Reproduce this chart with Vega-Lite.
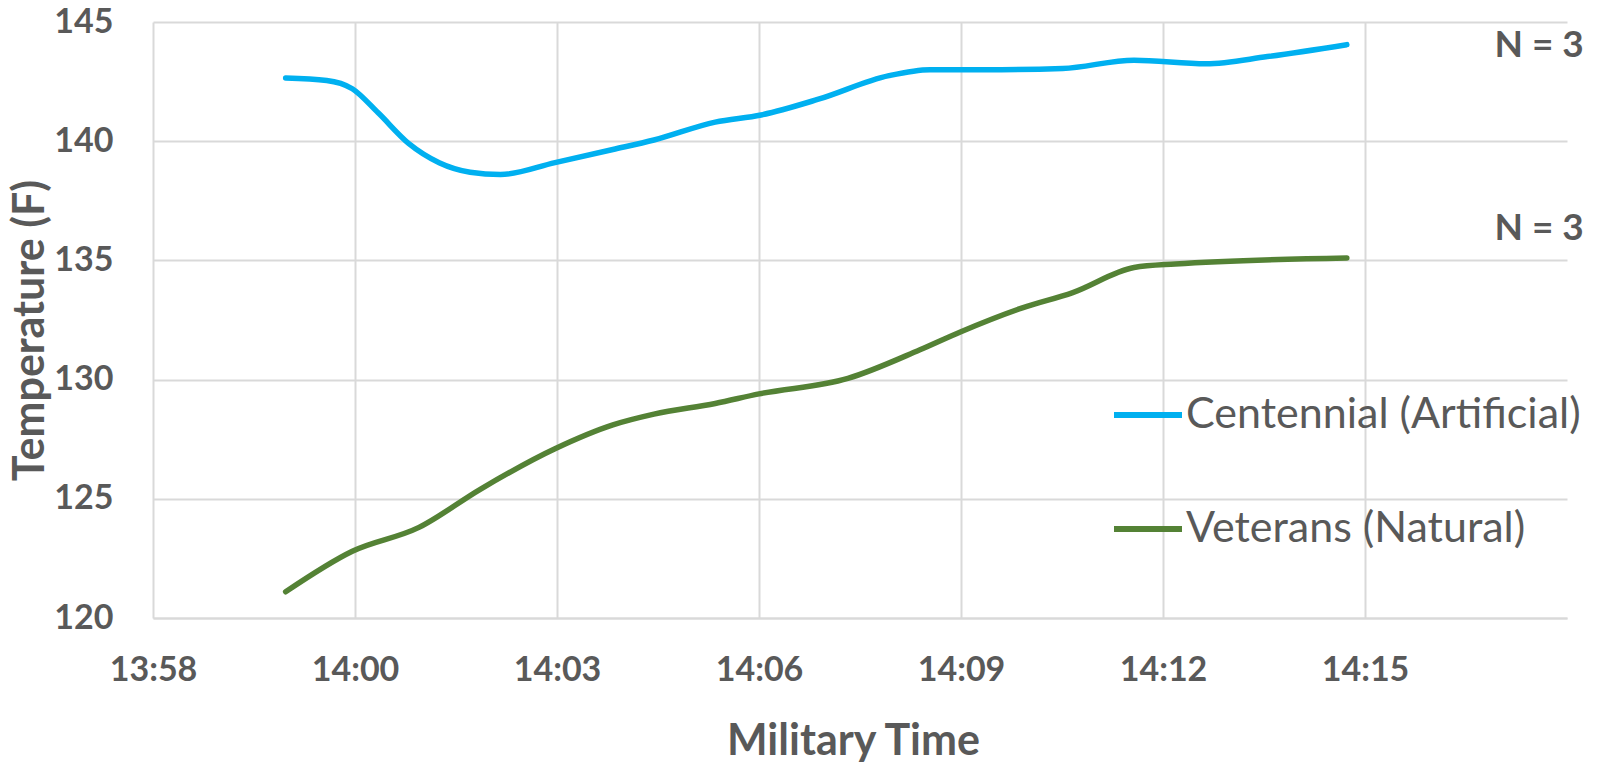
{
  "$schema": "https://vega.github.io/schema/vega-lite/v6.json",
  "autosize": {"type": "none"},
  "width": 1414,
  "height": 596,
  "padding": {"left": 153, "top": 22, "right": 32, "bottom": 149},
  "background": "white",
  "config": {
    "view": {"stroke": null},
    "font": "Lato",
    "axis": {
      "labelFont": "Lato", "labelFontWeight": "bold", "labelFontSize": 34, "labelColor": "#595959",
      "titleFont": "Lato", "titleFontWeight": "bold", "titleFontSize": 43, "titleColor": "#595959",
      "gridColor": "#d9d9d9", "gridWidth": 2, "ticks": false
    }
  },
  "datasets": {
    "temps": [
      {"series": "Centennial (Artificial)", "minute": 1.97, "temp": 142.65},
      {"series": "Centennial (Artificial)", "minute": 2.58, "temp": 142.55},
      {"series": "Centennial (Artificial)", "minute": 2.96, "temp": 142.2},
      {"series": "Centennial (Artificial)", "minute": 3.34, "temp": 141.2},
      {"series": "Centennial (Artificial)", "minute": 3.80, "temp": 139.9},
      {"series": "Centennial (Artificial)", "minute": 4.25, "temp": 139.1},
      {"series": "Centennial (Artificial)", "minute": 4.71, "temp": 138.7},
      {"series": "Centennial (Artificial)", "minute": 5.16, "temp": 138.6},
      {"series": "Centennial (Artificial)", "minute": 5.97, "temp": 139.1},
      {"series": "Centennial (Artificial)", "minute": 6.83, "temp": 139.65},
      {"series": "Centennial (Artificial)", "minute": 7.44, "temp": 140.05},
      {"series": "Centennial (Artificial)", "minute": 8.35, "temp": 140.8},
      {"series": "Centennial (Artificial)", "minute": 9.03, "temp": 141.1},
      {"series": "Centennial (Artificial)", "minute": 9.87, "temp": 141.75},
      {"series": "Centennial (Artificial)", "minute": 10.93, "temp": 142.75},
      {"series": "Centennial (Artificial)", "minute": 11.54, "temp": 143.0},
      {"series": "Centennial (Artificial)", "minute": 12.60, "temp": 143.0},
      {"series": "Centennial (Artificial)", "minute": 13.51, "temp": 143.05},
      {"series": "Centennial (Artificial)", "minute": 14.57, "temp": 143.4},
      {"series": "Centennial (Artificial)", "minute": 15.64, "temp": 143.25},
      {"series": "Centennial (Artificial)", "minute": 16.55, "temp": 143.55},
      {"series": "Centennial (Artificial)", "minute": 17.73, "temp": 144.05},
      {"series": "Veterans (Natural)", "minute": 1.97, "temp": 121.1},
      {"series": "Veterans (Natural)", "minute": 2.96, "temp": 122.8},
      {"series": "Veterans (Natural)", "minute": 3.95, "temp": 123.8},
      {"series": "Veterans (Natural)", "minute": 4.86, "temp": 125.4},
      {"series": "Veterans (Natural)", "minute": 5.97, "temp": 127.1},
      {"series": "Veterans (Natural)", "minute": 6.83, "temp": 128.1},
      {"series": "Veterans (Natural)", "minute": 7.44, "temp": 128.55},
      {"series": "Veterans (Natural)", "minute": 8.35, "temp": 129.0},
      {"series": "Veterans (Natural)", "minute": 9.00, "temp": 129.4},
      {"series": "Veterans (Natural)", "minute": 10.32, "temp": 130.05},
      {"series": "Veterans (Natural)", "minute": 11.39, "temp": 131.25},
      {"series": "Veterans (Natural)", "minute": 11.99, "temp": 132.0},
      {"series": "Veterans (Natural)", "minute": 12.90, "temp": 133.0},
      {"series": "Veterans (Natural)", "minute": 13.66, "temp": 133.65},
      {"series": "Veterans (Natural)", "minute": 14.57, "temp": 134.7},
      {"series": "Veterans (Natural)", "minute": 15.18, "temp": 134.85},
      {"series": "Veterans (Natural)", "minute": 17.73, "temp": 135.1}
    ],
    "notes": [
      {"label": "N = 3", "minute": 21.25, "temp": 144.0},
      {"label": "N = 3", "minute": 21.25, "temp": 136.3}
    ]
  },
  "layer": [
    {
      "data": {"name": "temps"},
      "mark": {"type": "line", "interpolate": "monotone", "strokeWidth": 5.5, "strokeCap": "round"},
      "encoding": {
        "x": {
          "field": "minute", "type": "quantitative",
          "scale": {"domain": [0, 21], "nice": false, "zero": false},
          "axis": {
            "title": "Military Time",
            "values": [0, 3, 6, 9, 12, 15, 18],
            "labelExpr": "['13:58','14:00','14:03','14:06','14:09','14:12','14:15'][round(datum.value/3)]",
            "labelFlush": false,
            "labelPadding": 35,
            "domainColor": "#d9d9d9", "domainWidth": 2,
            "titleX": 700, "titleAlign": "center",
            "titleY": 136, "titleBaseline": "alphabetic"
          }
        },
        "y": {
          "field": "temp", "type": "quantitative",
          "scale": {"domain": [120, 145], "nice": false, "zero": false},
          "axis": {
            "title": "Temperature (F)",
            "values": [120, 125, 130, 135, 140, 145],
            "labelPadding": 40,
            "labelFlush": false,
            "domain": false,
            "titleX": -110, "titleY": 308, "titleAngle": -90,
            "titleAlign": "center", "titleBaseline": "alphabetic"
          }
        },
        "color": {
          "field": "series", "type": "nominal",
          "scale": {"domain": ["Centennial (Artificial)", "Veterans (Natural)"], "range": ["#00B0F0", "#548235"]},
          "legend": {
            "title": null,
            "orient": "none",
            "legendX": 958,
            "legendY": 356,
            "symbolType": "stroke",
            "symbolSize": 4624,
            "symbolStrokeWidth": 6,
            "labelFont": "Lato",
            "labelFontSize": 43,
            "labelColor": "#595959",
            "labelLimit": 0,
            "labelOffset": 1,
            "rowPadding": 55
          }
        }
      }
    },
    {
      "data": {"name": "notes"},
      "mark": {"type": "text", "align": "right", "baseline": "middle", "font": "Lato", "fontWeight": "bold", "fontSize": 37, "color": "#595959", "clip": false},
      "encoding": {
        "x": {"field": "minute", "type": "quantitative"},
        "y": {"field": "temp", "type": "quantitative"},
        "text": {"field": "label"}
      }
    }
  ]
}
